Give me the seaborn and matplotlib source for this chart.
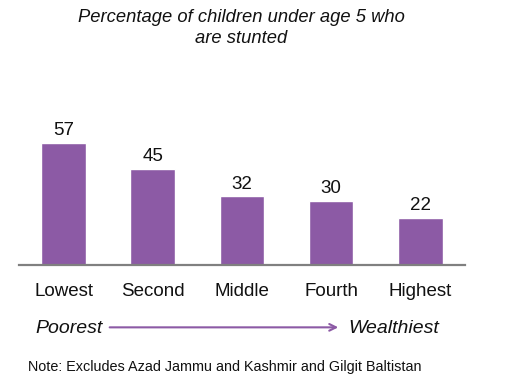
import pandas as pd
import matplotlib.pyplot as plt
import seaborn as sns

# ----------------------------
# Data
# ----------------------------
quintiles = ["Lowest", "Second", "Middle", "Fourth", "Highest"]
stunted_pct = [57, 45, 32, 30, 22]

df = pd.DataFrame({"quintile": quintiles, "pct": stunted_pct})

sns.set_style("white")
plt.rcParams["font.family"] = ["Liberation Sans", "DejaVu Sans"]

bar_color = "#8C5AA5"

fig = plt.figure(figsize=(5.09, 3.78), dpi=100)
ax = fig.add_axes([0.0373, 0.299, 0.876, 0.368])

sns.barplot(data=df, x="quintile", y="pct", color=bar_color, width=0.5,
            saturation=1, ax=ax)

ax.set_xlim(-0.5, 4.5)
ax.set_ylim(0, 65)

for i, v in enumerate(stunted_pct):
    ax.text(i, v + 1.8, str(v), ha="center", va="bottom", fontsize=13.5, color="#111111")

ax.set_xlabel("")
ax.set_ylabel("")
ax.set_yticks([])
ax.tick_params(axis="x", length=0, labelsize=13.5, pad=13, colors="#111111")
for s in ["top", "left", "right"]:
    ax.spines[s].set_visible(False)
ax.spines["bottom"].set_color("#808080")
ax.spines["bottom"].set_linewidth(1.6)

# Title
fig.text(0.474, 0.975, "Percentage of children under age 5 who\nare stunted",
         ha="center", va="top", fontsize=13.2, style="italic", color="#111111",
         linespacing=1.25)

# Poorest -> Wealthiest
fig.text(0.069, 0.131, "Poorest", ha="left", va="center", fontsize=14,
         style="italic", color="#111111")
fig.text(0.684, 0.131, "Wealthiest", ha="left", va="center", fontsize=14,
         style="italic", color="#111111")
fig.add_artist(plt.Annotation("", xy=(0.670, 0.134), xytext=(0.210, 0.134),
                              xycoords="figure fraction",
                              arrowprops=dict(arrowstyle="->", color=bar_color,
                                              lw=1.5, mutation_scale=12)))

# Note
fig.text(0.055, 0.028, "Note: Excludes Azad Jammu and Kashmir and Gilgit Baltistan",
         ha="left", va="center", fontsize=10.4, color="#111111")

fig.savefig("out.png", dpi=100)
